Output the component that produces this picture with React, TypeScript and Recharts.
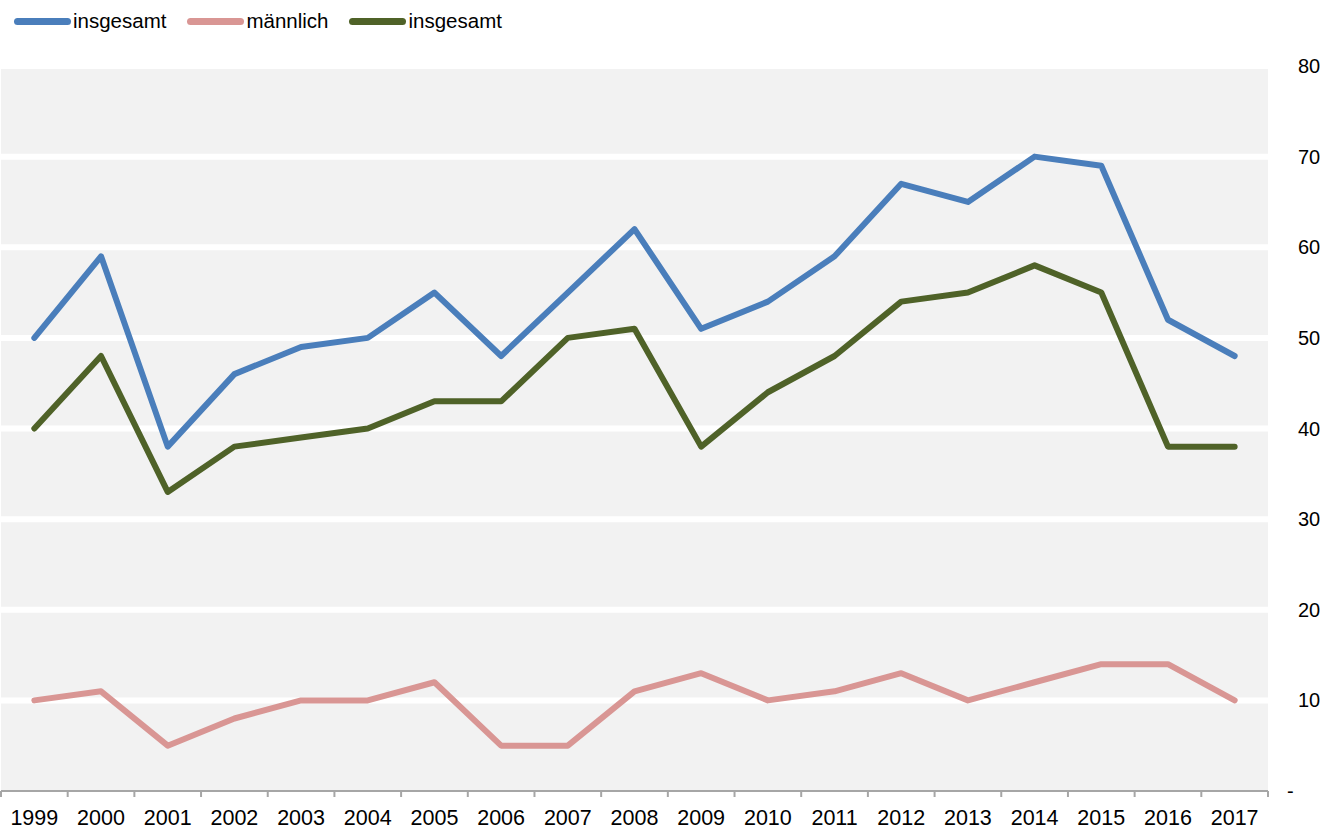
import { LineChart, Line, XAxis, YAxis, CartesianGrid } from 'recharts';

const YEARS = ['1999', '2000', '2001', '2002', '2003', '2004', '2005', '2006', '2007', '2008', '2009', '2010', '2011', '2012', '2013', '2014', '2015', '2016', '2017'];
const BLUE_VALUES = [50, 59, 38, 46, 49, 50, 55, 48, 55, 62, 51, 54, 59, 67, 65, 70, 69, 52, 48];
const PINK_VALUES = [10, 11, 5, 8, 10, 10, 12, 5, 5, 11, 13, 10, 11, 13, 10, 12, 14, 14, 10];
const GREEN_VALUES = [40, 48, 33, 38, 39, 40, 43, 43, 50, 51, 38, 44, 48, 54, 55, 58, 55, 38, 38];
const Y_TICKS = [0, 10, 20, 30, 40, 50, 60, 70, 80];

const SERIES = [
  { key: 'blue', name: 'insgesamt', color: '#4a7ebb' },
  { key: 'pink', name: 'männlich', color: '#d99694' },
  { key: 'green', name: 'insgesamt', color: '#4f6228' },
];

const data = YEARS.map((year, i) => ({
  year,
  blue: BLUE_VALUES[i],
  pink: PINK_VALUES[i],
  green: GREEN_VALUES[i],
}));

const FONT = '"Liberation Sans", Arial, sans-serif';
const WIDTH = 1336;
const HEIGHT = 829;
const PLOT_LEFT = 1;
const PLOT_RIGHT = 1268;
const BAND = (PLOT_RIGHT - PLOT_LEFT) / YEARS.length;

const XTick = (props: any) => {
  const { x, y, payload, index } = props;
  const half = BAND / 2;
  return (
    <g>
      <line x1={x - half} x2={x - half} y1={y} y2={y + 6} stroke="#a6a6a6" strokeWidth={2} />
      {index === YEARS.length - 1 && (
        <line x1={x + half} x2={x + half} y1={y} y2={y + 6} stroke="#a6a6a6" strokeWidth={2} />
      )}
      <text x={x} y={y + 34} textAnchor="middle" fontSize={21.5} fill="#000" fontFamily={FONT}>
        {payload.value}
      </text>
    </g>
  );
};

const YTick = (props: any) => {
  const { x, y, payload } = props;
  const isZero = payload.value === 0;
  return (
    <text x={isZero ? x - 11 : x} y={y + 7} textAnchor="start" fontSize={20} fill="#000" fontFamily={FONT}>
      {isZero ? '-' : payload.value}
    </text>
  );
};

function LegendRow() {
  return (
    <div style={{ position: 'absolute', left: 14, top: 9, display: 'flex', alignItems: 'center', fontFamily: FONT, fontSize: 20.5, color: '#000' }}>
      {SERIES.map((s, i) => (
        <div key={s.key} style={{ display: 'flex', alignItems: 'center', marginRight: i < SERIES.length - 1 ? 21 : 0 }}>
          <span style={{ display: 'inline-block', width: 57, height: 7, borderRadius: 4, background: s.color, marginRight: 2 }} />
          <span>{s.name}</span>
        </div>
      ))}
    </div>
  );
}

export default function App() {
  return (
    <div style={{ position: 'absolute', left: 0, top: 0, width: WIDTH, height: HEIGHT, background: '#fff' }}>
      <LegendRow />
      <LineChart width={WIDTH} height={HEIGHT} data={data} margin={{ top: 66, right: 0, left: PLOT_LEFT, bottom: 0 }}>
        <CartesianGrid
          vertical={false}
          fill="#f2f2f2"
          stroke="#ffffff"
          strokeWidth={6}
          horizontalValues={[10, 20, 30, 40, 50, 60, 70, 80]}
        />
        <XAxis
          dataKey="year"
          height={38}
          interval={0}
          padding={{ left: BAND / 2, right: BAND / 2 }}
          tickLine={false}
          tickSize={0}
          tickMargin={0}
          axisLine={{ stroke: '#a6a6a6', strokeWidth: 2 }}
          tick={<XTick />}
        />
        <YAxis
          orientation="right"
          width={68}
          domain={[0, 80]}
          ticks={Y_TICKS}
          interval={0}
          axisLine={false}
          tickLine={false}
          tickSize={0}
          tickMargin={30}
          tick={<YTick />}
        />
        {SERIES.map((s) => (
          <Line
            key={s.key}
            dataKey={s.key}
            name={s.name}
            stroke={s.color}
            strokeWidth={6}
            strokeLinecap="round"
            strokeLinejoin="round"
            dot={false}
            activeDot={false}
            isAnimationActive={false}
          />
        ))}
      </LineChart>
    </div>
  );
}
